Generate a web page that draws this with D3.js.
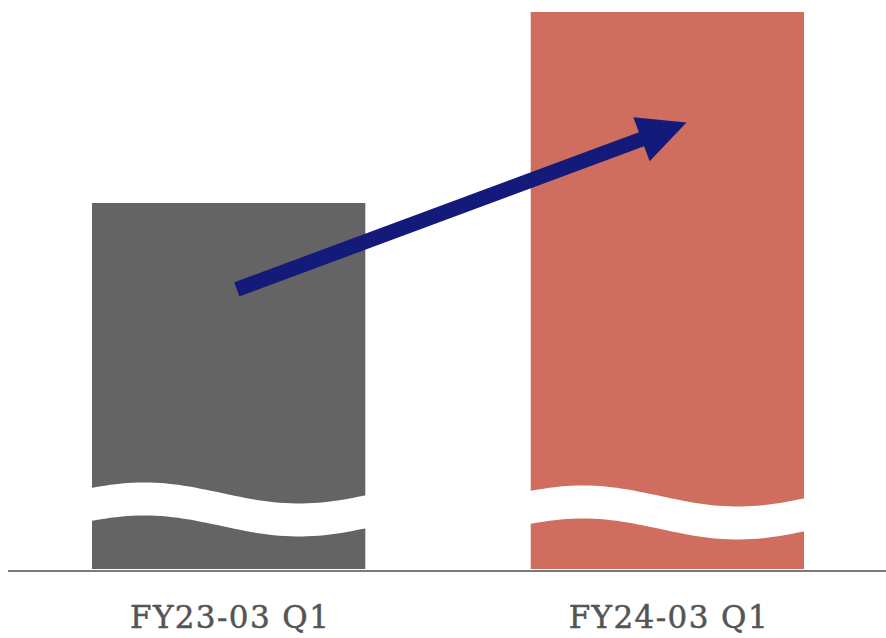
<!DOCTYPE html>
<html>
<head>
<meta charset="utf-8">
<script src="https://cdn.jsdelivr.net/npm/d3@7"></script>
<style>
  html, body { margin: 0; padding: 0; background: #ffffff; }
  svg { display: block; }
</style>
</head>
<body>
<svg id="chart" width="886" height="638"></svg>
<script>
// Period labels and the (indexed) value of each bar
const categories = ["FY23-03 Q1", "FY24-03 Q1"];
const values = [65.8, 100];
const barColors = ["#646464", "#cf6e5f"];

const width = 886, height = 638;
const margin = { top: 12, right: 82, bottom: 67, left: 92 };
const baseline = height - margin.bottom - 0.5;

const svg = d3.select("#chart");

const x = d3.scaleBand()
  .domain(categories)
  .range([margin.left, width - margin.right])
  .paddingInner(0.377)
  .paddingOuter(0);

const y = d3.scaleLinear()
  .domain([0, d3.max(values)])
  .range([baseline, margin.top]);

// Bars
svg.append("g")
  .selectAll("rect")
  .data(categories)
  .join("rect")
  .attr("x", d => x(d))
  .attr("y", (d, i) => y(values[i]))
  .attr("width", x.bandwidth())
  .attr("height", (d, i) => baseline - 1.5 - y(values[i]))
  .attr("fill", (d, i) => barColors[i]);

// Wavy white band marking the truncated value axis
function wave(x0, w, yTop) {
  return d3.range(0, 1.0001, 0.02).map(t => [
    x0 + t * w,
    yTop + 8 - 10.5 * Math.cos(2 * Math.PI * (t - 0.2) / 1.1)
  ]);
}
const bandThickness = 33;
svg.append("g")
  .selectAll("path")
  .data(categories)
  .join("path")
  .attr("d", (d, i) => {
    const x0 = x(d) - 4, w = x.bandwidth() + 8;
    const top = wave(x0, w, 485 + i * 3);
    const bottom = top.map(([px, py]) => [px, py + bandThickness]).reverse();
    return d3.line()(top.concat(bottom)) + "Z";
  })
  .attr("fill", "#ffffff");

// Baseline
svg.append("line")
  .attr("x1", 8)
  .attr("x2", width)
  .attr("y1", baseline + 0.5)
  .attr("y2", baseline + 0.5)
  .attr("stroke", "#7a7a7a")
  .attr("stroke-width", 2);

// Category labels
svg.append("g")
  .selectAll("text")
  .data(categories)
  .join("text")
  .attr("x", d => x(d) + x.bandwidth() / 2 + 1.5)
  .attr("y", 628)
  .attr("text-anchor", "middle")
  .attr("font-family", "'DejaVu Serif', serif")
  .attr("font-size", 31)
  .attr("letter-spacing", 1.4)
  .attr("fill", "#555555")
  .attr("stroke", "#555555")
  .attr("stroke-width", 0.5)
  .text(d => d);

// Growth arrow from the first bar to the second
const start = [x(categories[0]) + x.bandwidth() * 0.53, y(values[0] * 0.765)];
const tip = [x(categories[1]) + x.bandwidth() * 0.57, y(values[1] * 0.802)];
const dx = tip[0] - start[0], dy = tip[1] - start[1];
const len = Math.hypot(dx, dy);
const ang = Math.atan2(dy, dx) * 180 / Math.PI;
const shaftW = 15, headW = 47, headL = 48;

svg.append("path")
  .attr("transform", `translate(${start[0]},${start[1]}) rotate(${ang})`)
  .attr("d", [
    "M0", -shaftW / 2,
    "L", len - headL, -shaftW / 2,
    "L", len - headL, -headW / 2,
    "L", len, 0,
    "L", len - headL, headW / 2,
    "L", len - headL, shaftW / 2,
    "L0", shaftW / 2, "Z"
  ].join(" "))
  .attr("fill", "#141a7a");
</script>
</body>
</html>
